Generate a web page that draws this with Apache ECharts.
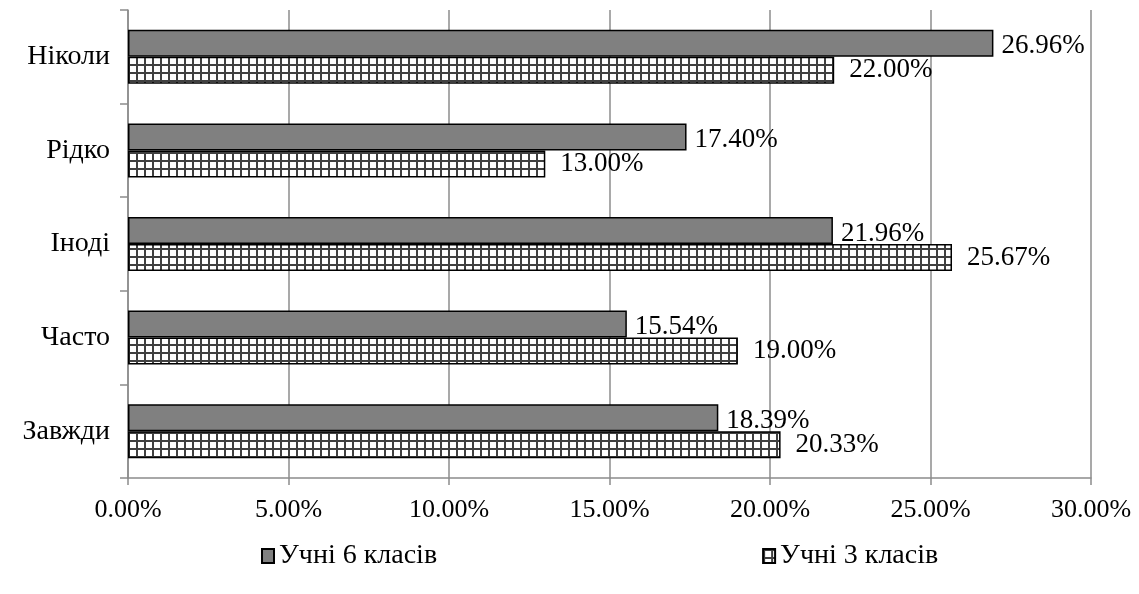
<!DOCTYPE html>
<html>
<head>
<meta charset="utf-8"/>
<title>chart</title>
<script src="https://cdn.jsdelivr.net/npm/echarts@6/dist/echarts.min.js"></script>
<style>
  html, body { margin: 0; padding: 0; background: #fff; }
  #main { width: 1139px; height: 594px; }
</style>
</head>
<body>
<div id="main"></div>
<script>
// дані
var categories = ['Завжди', 'Часто', 'Іноді', 'Рідко', 'Ніколи'];
var grade6 = [18.39, 15.54, 21.96, 17.40, 26.96];
var grade3 = [20.33, 19.00, 25.67, 13.00, 22.00];
var xTicks = [0, 5, 10, 15, 20, 25, 30];

// візерунок "сітка" для 3 класів
var cv = document.createElement('canvas');
cv.width = 8; cv.height = 8;
var ctx = cv.getContext('2d');
ctx.fillStyle = '#ffffff';
ctx.fillRect(0, 0, 8, 8);
ctx.fillStyle = '#404040';
ctx.fillRect(0, 0, 8, 2);
ctx.fillRect(0, 0, 2, 8);
var gridPattern = { image: cv, repeat: 'repeat' };

var font = '"Liberation Serif", "Times New Roman", serif';
var chart = echarts.init(document.getElementById('main'));

var option = {
  animation: false,
  textStyle: { fontFamily: font },
  grid: { left: 128, right: 48, top: 10, bottom: 116, containLabel: false },
  legend: {
    data: ['Учні 6 класів', 'Учні 3 класів'],
    icon: 'rect',
    left: 256,
    top: 537,
    itemGap: 325,
    itemWidth: 12,
    itemHeight: 14,
    textStyle: { fontFamily: font, fontSize: 28, color: '#000' }
  },
  xAxis: {
    type: 'value',
    min: xTicks[0],
    max: xTicks[xTicks.length - 1],
    interval: 5,
    axisLine: { show: true, lineStyle: { color: '#8c8c8c', width: 1.5 } },
    axisTick: { show: true, length: 7, lineStyle: { color: '#8c8c8c', width: 1.5 } },
    splitLine: { show: true, lineStyle: { color: '#8c8c8c', width: 1.5 } },
    axisLabel: {
      margin: 19, fontSize: 26, color: '#000', fontFamily: font,
      formatter: function (v) { return v.toFixed(2) + '%'; }
    }
  },
  yAxis: {
    type: 'category',
    data: categories,
    axisLine: { show: true, lineStyle: { color: '#8c8c8c', width: 1.5 } },
    axisTick: { show: true, length: 8, lineStyle: { color: '#8c8c8c', width: 1.5 } },
    axisLabel: { margin: 18, fontSize: 28, color: '#000', fontFamily: font }
  },
  series: [
    {
      name: 'Учні 6 класів',
      type: 'bar',
      data: grade6,
      barWidth: 27,
      barGap: '0%',
      barCategoryGap: '42%',
      itemStyle: { color: '#808080', borderColor: '#000', borderWidth: 1.5 },
      label: {
        show: true, position: 'right', distance: 8, offset: [0, 3],
        fontSize: 27, color: '#000', fontFamily: font,
        formatter: function (p) { return p.value.toFixed(2) + '%'; }
      }
    },
    {
      name: 'Учні 3 класів',
      type: 'bar',
      data: grade3,
      barWidth: 27,
      barGap: '0%',
      barCategoryGap: '42%',
      itemStyle: { color: gridPattern, borderColor: '#000', borderWidth: 1.5 },
      label: {
        show: true, position: 'right', distance: 15,
        fontSize: 27, color: '#000', fontFamily: font,
        formatter: function (p) { return p.value.toFixed(2) + '%'; }
      }
    }
  ]
};

chart.setOption(option);
</script>
</body>
</html>
